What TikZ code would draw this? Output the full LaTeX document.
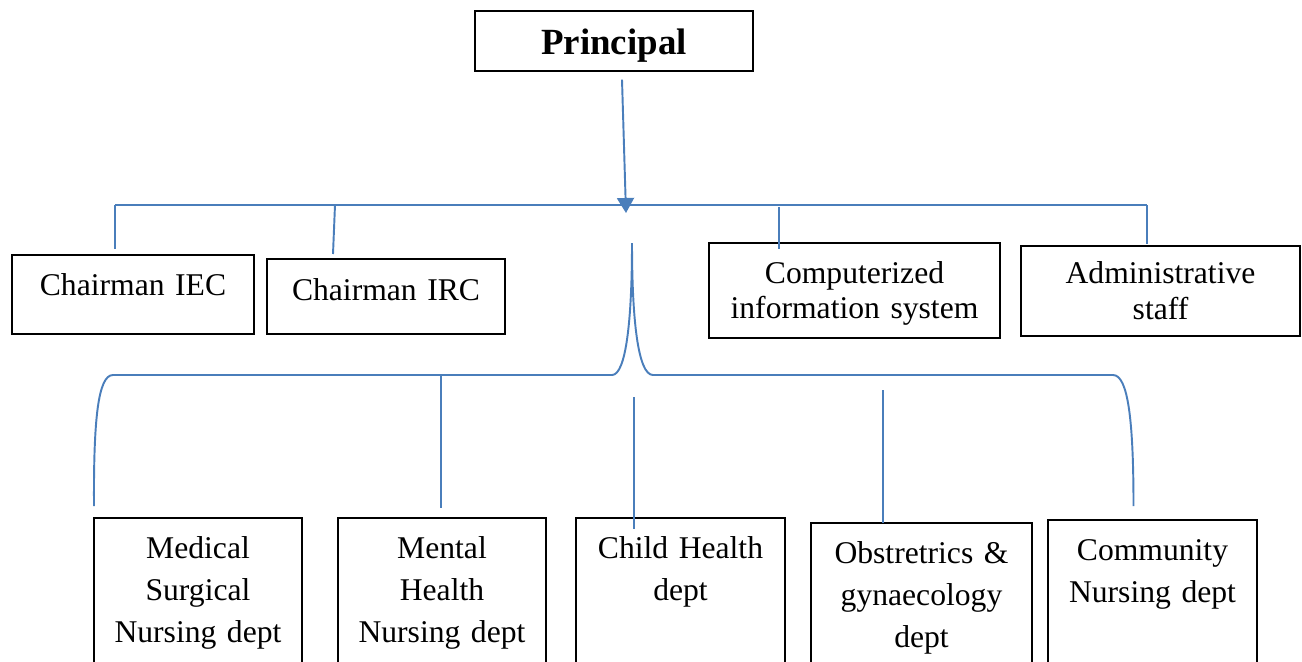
\documentclass[tikz,border=0pt]{standalone}
\usepackage{fontspec}
\setmainfont{Liberation Serif}
\usetikzlibrary{arrows.meta}
\definecolor{linkblue}{RGB}{74,126,187}
\begin{document}
\begin{tikzpicture}[x=0.2mm,y=-0.2mm]
		\tikzset{box/.style={draw, line width=0.8pt, inner xsep=0pt, inner ysep=0pt, anchor=base, align=center, font=\fontsize{18}{24}\selectfont},
		link/.style={draw=linkblue, line width=1.1pt}}
\useasboundingbox (0,0) rectangle (1302,662);
\clip (0,0) rectangle (1302,662);

\node[box, text width=55.6mm, text height=8.8mm, text depth=3.2mm, font=\fontsize{21}{25}\selectfont\bfseries] (principal) at (614,55) {Principal};
\node[box, text width=48.4mm, text height=8mm, text depth=7.8mm] (iec) at (133,295) {Chairman IEC};
\node[box, text width=47.6mm, text height=8.2mm, text depth=6.8mm] (irc) at (386,300) {Chairman IRC};
\node[box, text width=58.2mm, text height=8mm, text depth=11mm, font=\fontsize{18}{20}\selectfont] (cis) at (854.5,283) {Computerized\\information system};
\node[box, text width=55.8mm, text height=7.4mm, text depth=10.6mm, font=\fontsize{18}{21}\selectfont] (admin) at (1160.5,283) {Administrative\\staff};

\node[box, text width=41.6mm, text height=8mm, text depth=28.4mm] (msn) at (198,558) {Medical\\Surgical\\Nursing dept};
\node[box, text width=41.6mm, text height=8mm, text depth=28.4mm] (mhn) at (442,558) {Mental\\Health\\Nursing dept};
\node[box, text width=41.8mm, text height=8mm, text depth=28.4mm] (chd) at (680.5,558) {Child Health\\dept};
\node[box, text width=44.2mm, text height=8mm, text depth=27.4mm] (obg) at (921.5,563) {Obstretrics \&\\gynaecology\\dept};
\node[box, text width=41.8mm, text height=8mm, text depth=28mm] (cnd) at (1152.5,560) {Community\\Nursing dept};

\coordinate (hub) at (626,213);
\draw[link, -{Triangle[length=3mm, width=3.4mm]}] ([xshift=1.6mm, yshift=-1.6mm]principal.south) -- (hub);

\coordinate (barL) at (115,205);
\coordinate (barR) at (1147,205);
\coordinate (t1) at (115,249);
\coordinate (t2a) at (335,205);
\coordinate (t2) at (333,254);
\coordinate (t3a) at (779,207);
\coordinate (t3) at (779,249);
\coordinate (t4) at (1147,244);
\draw[link] (barL) -- (barR);
\foreach \from/\to in {barL/t1,t2a/t2,t3a/t3,barR/t4}
{
	\draw[link] (\from) -- (\to);
}

\coordinate (stem) at (632,243);
\coordinate (leftEnd) at (94,506);
\coordinate (rightEnd) at (1133.5,506);
\draw[link] (leftEnd) .. controls (93.5,420) and (98,375) .. (113,375) -- (612,375)
	.. controls (626,375) and (632,320) .. (stem)
	.. controls (632,320) and (638,375) .. (653,375) -- (1113,375)
	.. controls (1128,375) and (1133.5,420) .. (rightEnd);

\coordinate (d1a) at (441,375);
\coordinate (d1) at (441,508);
\coordinate (d2a) at (634,397);
\coordinate (d2) at (634,529);
\coordinate (d3a) at (883,390);
\coordinate (d3) at (883,523);
\foreach \from/\to in {d1a/d1,d2a/d2,d3a/d3}
{
	\draw[link] (\from) -- (\to);
}

		\end{tikzpicture}
\end{document}
